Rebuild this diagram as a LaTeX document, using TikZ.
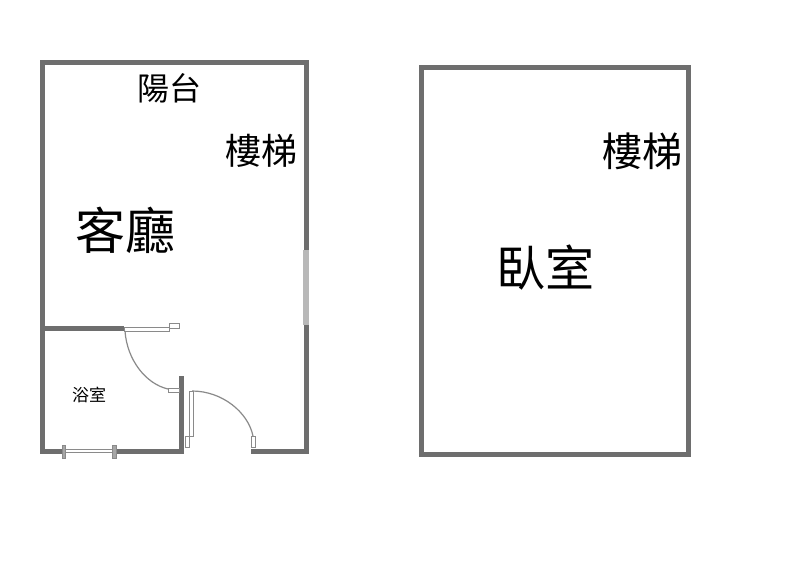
\documentclass[tikz,border=0pt]{standalone}
\usepackage{fontspec}
\newfontfamily\cjk{Noto Sans CJK TC}
\definecolor{wallc}{HTML}{6E6E6E}
\definecolor{thinc}{HTML}{8A8A8A}
\tikzset{
  wall/.style={draw=wallc,line width=5pt,line cap=butt,line join=miter},
  fixture/.style={draw=thinc,line width=1pt,fill=white},
  swing/.style={draw=thinc,line width=1.2pt},
  lbl/.style={inner sep=0pt,text=black,font=\cjk\fontsize{#1}{#1}\selectfont},
}
\begin{document}
\begin{tikzpicture}[x=1pt,y=-1pt]
\useasboundingbox (0,0) rectangle (800,576);
\fill[white] (0,0) rectangle (800,576);
% left plan: outer walls
\draw[wall] (124,328) -- (42,328);
\draw[wall] (62,451) -- (42,451) -- (42,62) -- (306,62) -- (306,451) -- (251,451);
\draw[wall] (116,451) -- (181.5,451) -- (181.5,376);
\draw[draw=white!72!black,line width=5.1pt] (306,250) -- (306,325);
% bathroom door
\draw[fixture] (124,327) rectangle (169,331);
\draw[fixture] (169,323.5) rectangle (179,328);
\draw[swing] (125,331) .. controls (127,360) and (146,384) .. (168,389);
\draw[fixture] (168,388) rectangle (179,392);
% entry door
\draw[fixture] (189,391) rectangle (193,436);
\draw[fixture] (185.5,436) rectangle (189.5,447);
\draw[swing] (192,391) .. controls (222,391) and (248,412) .. (253,436);
\draw[fixture] (251,436) rectangle (255,447);
% window
\draw[draw=thinc,line width=0.9pt,fill=white] (64,449.5) rectangle (114,452.5);
\draw[fixture,fill=black!35] (62,445) rectangle (65.5,458);
\draw[fixture,fill=black!35] (112.5,445) rectangle (116,458);
% right plan
\draw[wall] (421,67) rectangle (688,454);
% labels
\node[lbl=32] (balcony) at (169.5,88.5) {陽台};
\node[lbl=36] (stairL) at (261,151) {樓梯};
\node[lbl=50] (living) at (125,230) {客廳};
\node[lbl=17] (bath) at (89,395) {浴室};
\node[lbl=40] (stairR) at (642,151) {樓梯};
\node[lbl=49] (bed) at (545.5,268) {臥室};
\end{tikzpicture}
\end{document}
